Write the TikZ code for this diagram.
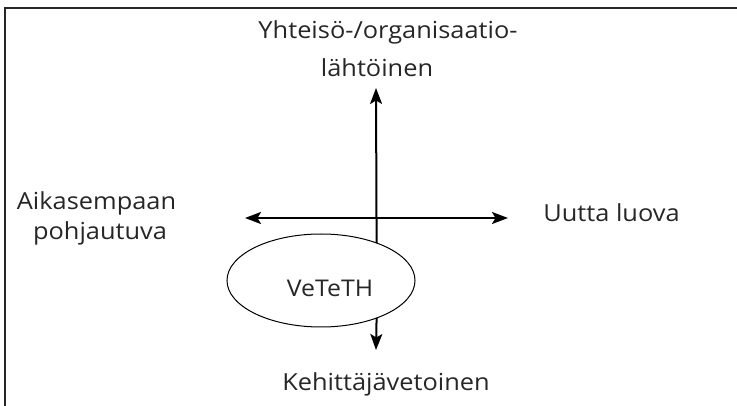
\documentclass[tikz,border=0pt]{standalone}
\usepackage{fontspec}
\setmainfont{Open Sans}[FakeStretch=1.08]
\usetikzlibrary{arrows.meta,shapes.geometric}
\begin{document}
\begin{tikzpicture}[x=1pt,y=-1pt,
  lbl/.style={inner sep=0pt,anchor=base,font=\fontsize{23.5}{28}\selectfont,text=black!85},
  axis/.style={line width=2pt,-{Stealth[length=16pt,width=12pt,inset=3.5pt]}},
  frameline/.style={line width=1.5pt,black!85}]
\useasboundingbox (0,0) rectangle (737,406);
% frame
\coordinate (fTL) at (5,8);
\coordinate (fTR) at (737,8);
\coordinate (fBL) at (5,406);
\draw[frameline] (fTR) -- (fTL) -- (fBL);
% ellipse
\node[ellipse,draw,line width=1pt,minimum width=188pt,minimum height=93pt,inner sep=0pt,outer sep=0pt] (vete) at (321,280.5) {};
\node[lbl,font=\fontsize{23}{28}\selectfont] (vetext) at (330,297) {VeTeTH};
% labels
\node[lbl] (top1) at (388,39) {Yhteisö-/organisaatio-};
\node[lbl] (top2) at (377,77) {lähtöinen};
\node[lbl] (left1) at (96.5,210) {Aikasempaan};
\node[lbl] (left2) at (100,240) {pohjautuva};
\node[lbl] (right) at (611.5,222) {Uutta luova};
\node[lbl] (bottom) at (386,391) {Kehittäjävetoinen};
% axis points
\coordinate (upTip) at (376,88);
\coordinate (downTip) at (376,350);
\coordinate (leftTip) at (245,218);
\coordinate (rightTip) at (508,218);
\coordinate (mid) at (376,218);
% axes
\draw[axis] (mid) -- (leftTip);
\draw[axis] (mid) -- (rightTip);
\draw[axis] (vete.34.3) -- (upTip);
\draw[axis] (vete.-34.3) -- (downTip);
\end{tikzpicture}
\end{document}
